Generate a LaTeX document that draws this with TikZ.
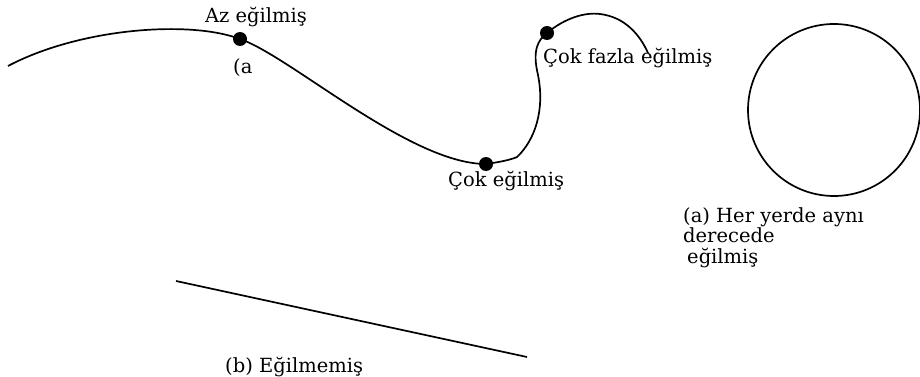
\documentclass[tikz,border=0pt]{standalone}
\usepackage{fontspec}
\setmainfont{DejaVu Serif}
\begin{document}
\begin{tikzpicture}[x=1pt,y=-1pt,
  curve/.style={line width=1.7pt, black, line join=round},
  dotmark/.style={circle, fill=black, inner sep=0pt, minimum size=14pt},
  lbl/.style={inner sep=0pt, font=\fontsize{19.5}{20.5}\selectfont, text=black}]
\useasboundingbox (0,0) rectangle (920,377);
% bent curve
\node[dotmark] (d1) at (240,39) {};
\node[dotmark] (d2) at (486,164) {};
\node[dotmark] (d3) at (547,33) {};
\draw[curve] (8,66) .. controls (80,28) and (190,20) .. (d1.center)
  .. controls (290,56) and (410,164) .. (d2.center)
  .. controls (500,162) and (510,160) .. (517,157)
  .. controls (535,140) and (545,110) .. (538,75)
  .. controls (532,50) and (538,40) .. (d3.center)
  .. controls (565,18) and (585,12) .. (600,14)
  .. controls (625,17) and (640,35) .. (648,53);
\node[lbl] (l1) at (256,17) {Az eğilmiş};
\node[lbl, anchor=west] (l1b) at (233,68) {(a};
\node[lbl, anchor=west] (l2) at (448,181) {Çok eğilmiş};
\node[lbl, anchor=west] (l3) at (543,58) {Çok fazla eğilmiş};
% circle
\draw[curve] (834,110) circle (86);
\node[lbl, anchor=north west, align=left] (l4) at (683,207) {(a) Her yerde aynı\\derecede\\\hspace*{4pt}eğilmiş};
% straight line
\coordinate (s1) at (176,281);
\coordinate (s2) at (527,357);
\draw[curve] (s1) -- (s2);
\node[lbl, anchor=west] (l5) at (225,367) {(b) Eğilmemiş};
\end{tikzpicture}
\end{document}
